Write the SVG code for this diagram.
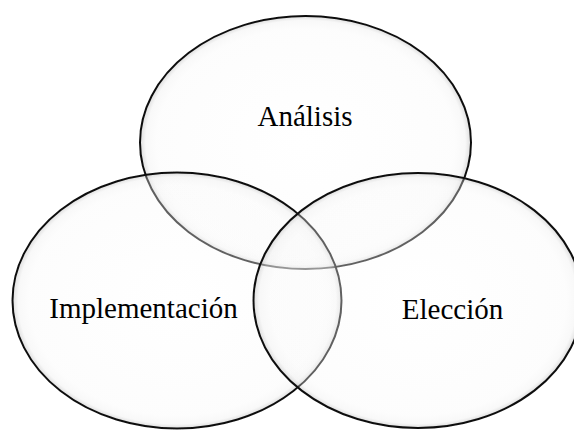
<svg xmlns="http://www.w3.org/2000/svg" width="574" height="430" viewBox="0 0 574 430">
<style>
.shape{fill:url(#g);fill-opacity:0.35;stroke:#111;stroke-width:2;filter:url(#soft)}
.label{font-family:"Liberation Serif","Times New Roman",serif;font-size:29px;fill:#000;text-anchor:middle}
</style>
<defs>
<radialGradient id="g" cx="50%" cy="50%" r="50%">
<stop offset="0" stop-color="#ffffff"/>
<stop offset="0.9" stop-color="#f8f8f8"/>
<stop offset="0.965" stop-color="#ececec"/>
<stop offset="1" stop-color="#a0a0a0"/>
</radialGradient>
<filter id="soft" x="-5%" y="-5%" width="110%" height="110%"><feGaussianBlur stdDeviation="0.5"/></filter>
</defs>
<rect width="574" height="430" fill="#fff"/>
<g id="analisis">
<ellipse class="shape" cx="305.5" cy="142.5" rx="165.5" ry="126.5"/>
</g>
<g id="implementacion">
<ellipse class="shape" cx="177" cy="300.5" rx="164.5" ry="128"/>
</g>
<g id="eleccion">
<ellipse class="shape" cx="418" cy="300.5" rx="164.5" ry="127.5"/>
</g>
<g id="labels">
<text class="label" x="305" y="126">Análisis</text>
<text class="label" x="143.5" y="318">Implementación</text>
<text class="label" x="452.5" y="319">Elección</text>
</g>
</svg>
